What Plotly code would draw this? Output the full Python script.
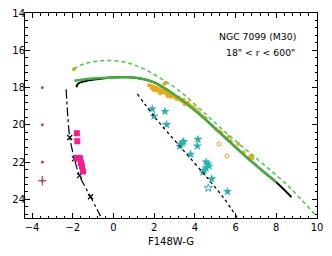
import plotly.graph_objects as go

# ---- data ----
err_x = [-3.5, -3.5, -3.5, -3.5]
err_y = [18, 20, 22, 23]
err_dx = [0.02, 0.03, 0.06, 0.2]
err_dy = [0.02, 0.03, 0.06, 0.25]

dashdot_x = [-2.33, -2.29, -2.25, -2.15, -1.92, -1.67, -1.13, -0.64]
dashdot_y = [18.1, 18.8, 19.5, 20.68, 21.83, 22.73, 23.86, 24.9]
xmark_x = [-2.15, -1.92, -1.67, -1.13]
xmark_y = [20.68, 21.83, 22.73, 23.86]

pink_x = [-1.8, -1.78, -1.82, -1.72, -1.64, -1.6, -1.55, -1.5]
pink_y = [20.45, 20.88, 21.78, 21.78, 21.8, 22.05, 22.22, 22.5]

black_x = [-1.82, -1.78, -1.71, -1.5, -1.3, -0.8, -0.15, 0.8, 1.5, 2.0, 2.6, 3.2, 3.8, 4.3, 5.0, 5.8, 6.6, 7.3, 8.0, 8.75]
black_y = [17.98, 17.85, 17.77, 17.68, 17.63, 17.55, 17.46, 17.45, 17.55, 17.72, 18.1, 18.55, 19.05, 19.5, 20.2, 21.0, 21.8, 22.45, 23.08, 23.88]

green_x = [-1.92, -1.0, 0.0, 0.8, 1.5, 2.0, 2.6, 3.2, 3.8, 4.3, 5.0, 5.8, 6.6, 7.3, 8.0]
green_y = [17.64, 17.52, 17.46, 17.45, 17.55, 17.72, 18.1, 18.55, 19.05, 19.5, 20.2, 21.0, 21.8, 22.45, 23.08]

dash_x = [-1.95, -1.5, -1.0, -0.3, 0.5, 1.0, 1.5, 2.3, 3.2, 4.45, 5.5, 6.8, 8.5, 10.0]
dash_y = [17.0, 16.75, 16.62, 16.55, 16.62, 16.78, 17.0, 17.5, 18.15, 19.35, 20.4, 21.6, 23.2, 24.93]

orange_x = [-1.95, 1.75, 1.85, 1.95, 2.0, 2.1, 2.15, 2.25, 2.3, 2.4, 2.45, 2.5, 2.55, 2.55, 2.6,
            2.7, 2.75, 2.85, 2.9, 3.0, 3.05, 3.15, 3.2, 3.3, 3.4, 3.45, 3.55, 3.65, 3.7, 3.8,
            3.9, 4.0, 4.1, 4.2, 4.37, 4.53, 5.04, 5.19, 5.3, 5.65, 5.76, 6.14, 6.39, 6.72, 6.83,
            2.0, 2.3, 2.8, 1.9, 2.2, 2.65, 3.1, 3.5]
orange_y = [17.02, 17.88, 17.92, 17.95, 18.02, 18.0, 18.1, 18.08, 18.18, 18.15, 18.25, 17.8, 17.75, 18.22, 18.32,
            18.3, 18.4, 18.38, 18.48, 18.45, 18.55, 18.6, 18.52, 18.68, 18.75, 18.65, 18.85, 18.8, 18.92, 19.0,
            19.05, 19.15, 19.25, 19.35, 19.54, 19.63, 20.23, 20.34, 20.43, 20.64, 20.87, 21.03, 21.47, 21.7, 21.78,
            18.15, 18.3, 18.5, 18.05, 18.2, 18.45, 18.6, 18.9]
orange_open_x = [5.19, 5.58]
orange_open_y = [21.03, 21.67]

star_x = [1.9, 1.99, 2.53, 2.61, 3.3, 3.38, 3.45, 3.25, 4.15, 4.12, 3.79, 4.55, 4.65, 4.7, 4.55, 4.45, 4.4, 4.83, 5.6]
star_y = [19.15, 19.54, 19.28, 19.99, 21.05, 20.96, 20.9, 21.15, 20.78, 21.14, 21.58, 22.0, 22.1, 22.22, 22.32, 22.45, 22.55, 22.9, 23.58]
star_open_x = [4.66]
star_open_y = [23.39]

dot_x = [1.17, 2.07, 3.3, 4.61, 5.43, 6.09]
dot_y = [18.34, 19.65, 21.2, 22.85, 23.95, 25.0]

x_ticks = [-4, -2, 0, 2, 4, 6, 8, 10]
y_ticks = [14, 16, 18, 20, 22, 24]

fig = go.Figure()

fig.add_trace(go.Scatter(x=dashdot_x, y=dashdot_y, mode="lines",
                         line=dict(color="black", width=1.2, dash="dashdot", shape="spline")))
fig.add_trace(go.Scatter(x=xmark_x, y=xmark_y, mode="markers",
                         marker=dict(symbol="x-thin", size=5, line=dict(color="black", width=1.2))))
fig.add_trace(go.Scatter(x=black_x, y=black_y, mode="lines",
                         line=dict(color="black", width=2, shape="spline")))
fig.add_trace(go.Scatter(x=orange_x, y=orange_y, mode="markers",
                         marker=dict(symbol="circle", size=4, color="#f5a31a")))
fig.add_trace(go.Scatter(x=orange_open_x, y=orange_open_y, mode="markers",
                         marker=dict(symbol="circle-open", size=4, color="#f5a31a", line=dict(width=1))))
fig.add_trace(go.Scatter(x=green_x, y=green_y, mode="lines",
                         line=dict(color="#3bb33b", width=2.5, shape="spline")))
fig.add_trace(go.Scatter(x=dash_x, y=dash_y, mode="lines",
                         line=dict(color="#44cc44", width=1.5, dash="4px,3px", shape="spline")))
fig.add_trace(go.Scatter(x=star_x, y=star_y, mode="markers",
                         marker=dict(symbol="star", size=7, color="#26b3ad")))
fig.add_trace(go.Scatter(x=star_open_x, y=star_open_y, mode="markers",
                         marker=dict(symbol="star-open", size=6, color="#26b3ad", line=dict(width=1))))
fig.add_trace(go.Scatter(x=pink_x, y=pink_y, mode="markers",
                         marker=dict(symbol="square", size=6, color="#ff1a8c")))
fig.add_trace(go.Scatter(x=dot_x, y=dot_y, mode="lines",
                         line=dict(color="black", width=1.3, dash="dot", shape="spline")))
fig.add_trace(go.Scatter(x=err_x, y=err_y, mode="markers",
                         marker=dict(size=3, color="#b84a4a"),
                         error_x=dict(type="data", array=err_dx, color="#b84a4a", thickness=1.3, width=0),
                         error_y=dict(type="data", array=err_dy, color="#b84a4a", thickness=1.3, width=0)))

fig.add_annotation(x=0.795, y=0.883, xref="paper", yref="paper", text="NGC 7099 (M30)",
                   xanchor="center", yanchor="middle",
                   showarrow=False, font=dict(size=9.3, color="black", family="DejaVu Sans"))
fig.add_annotation(x=0.805, y=0.805, xref="paper", yref="paper", text="18\" < r < 600\"",
                   xanchor="center", yanchor="middle",
                   showarrow=False, font=dict(size=9.3, color="black", family="DejaVu Sans"))

axis_common = dict(showgrid=False, zeroline=False, showline=True, linecolor="black", linewidth=1,
                   mirror="allticks", ticks="inside", ticklen=5, tickwidth=1, tickcolor="black",
                   automargin=False,
                   tickfont=dict(size=10, color="black", family="DejaVu Sans"))

fig.update_xaxes(range=[-4.35, 10], tickvals=x_ticks, ticktext=[str(v).replace("-", "\u2212") for v in x_ticks],
                 minor=dict(dtick=0.4, tick0=0, ticks="inside", ticklen=2.5, tickcolor="black", tickwidth=1),
                 title=dict(text="F148W-G", font=dict(size=10, color="black", family="DejaVu Sans"), standoff=5),
                 **axis_common)
fig.update_yaxes(range=[25, 14], tickvals=y_ticks, ticktext=[str(v) for v in y_ticks],
                 ticklabelstandoff=-3,
                 minor=dict(dtick=0.4, tick0=14, ticks="inside", ticklen=2.5, tickcolor="black", tickwidth=1),
                 **axis_common)

fig.update_layout(width=332, height=256, margin=dict(l=25, r=15, t=13, b=38),
                  plot_bgcolor="white", paper_bgcolor="white", showlegend=False)

fig.write_html("out.html", config={"displayModeBar": False},
               post_script="document.body.style.margin='0';")
